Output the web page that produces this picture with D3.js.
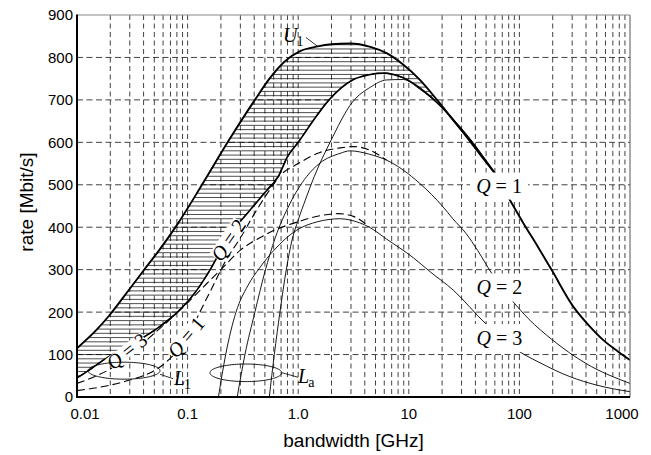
<!DOCTYPE html>
<html><head><meta charset="utf-8">
<script src="https://cdn.jsdelivr.net/npm/d3@7"></script>
<style>body{margin:0;background:#fff}</style>
</head><body>
<svg id="c" width="651" height="455"></svg>
<script>
// ---------- data ----------
const xTicks = [0.01, 0.1, 1, 10, 100, 1000];
const xTickLabels = ["0.01", "0.1", "1.0", "10", "100", "1000"];
const yTicks = [0, 100, 200, 300, 400, 500, 600, 700, 800, 900];
const hGrid = [100, 200, 300, 400, 500, 600, 700, 800];

// upper bound U1 [GHz, Mbit/s]
const upperU1 = [[0.01,115],[0.015,158],[0.02,195],[0.03,255],[0.04,298],[0.055,345],[0.08,405],[0.135,500],[0.23,600],[0.406,700],[0.55,750],[0.75,790],[1.04,815],[1.5,826],[2.0,831],[2.94,833],[4.5,825],[6.3,810],[9,782],[12.6,747],[18,700],[25.2,653],[37,600],[50,555],[60,527],[82,464],[109,409],[150,350],[196,299],[307,213],[420,170],[574,134],[800,105],[1000,87]];
// lower envelope (boundary of hatched region)
const lowerEnvelope = [[0.01,45],[0.013,64],[0.0173,87],[0.032,126],[0.056,166],[0.082,201],[0.12,250],[0.16,300],[0.21,355],[0.26,393],[0.366,440],[0.5,482],[0.66,519],[0.8,566],[1.0,600],[1.4,655],[1.9,700],[3.1,747],[4.5,760],[5.9,763],[8.9,752],[12.6,728],[20,682],[30,627],[45,568],[60,527]];
// L1 bounds (dashed)
const L1Q1 = [[0.01,15],[0.02,28],[0.03,40],[0.045,56],[0.06,76],[0.08,108],[0.1,140],[0.129,200],[0.17,262],[0.22,320],[0.3,375],[0.42,440],[0.52,478],[0.66,519],[0.8,566],[1.0,600],[1.4,655],[1.9,700],[3.1,747],[4.5,760],[5.9,763],[8.9,752]];
const L1Q2 = [[0.01,32],[0.015,50],[0.02,66],[0.03,100],[0.05,150],[0.082,201],[0.12,250],[0.16,300],[0.21,355],[0.26,393],[0.366,440],[0.5,482],[0.66,519],[1.0,550],[1.57,576],[2.4,587],[3.2,590],[4.4,582],[6.3,558]];
const L1Q3 = [[0.01,45],[0.013,64],[0.0173,87],[0.032,126],[0.056,166],[0.082,201],[0.1,222],[0.15,268],[0.2,300],[0.3,346],[0.45,375],[0.6,392],[1.0,413],[1.57,427],[2.3,432],[3.2,425],[4.4,400]];
// La bounds (thin solid)
const LaQ1 = [[0.548,0],[0.608,100],[0.684,200],[0.78,300],[0.88,370],[1.0,417],[1.16,464],[1.4,520],[1.94,600],[3.1,695],[4.5,730],[6.3,747],[8.9,748],[12.6,725],[25.2,655],[38,600],[60,527]];
const LaQ2 = [[0.281,0],[0.33,100],[0.406,200],[0.5,295],[0.62,375],[0.84,455],[1.19,519],[1.57,551],[2.39,574],[2.94,580],[4.4,572],[6.3,558],[12.6,503],[20.4,448],[25,420],[33,385],[42,345],[56,292],[88,224],[120,185],[200,134],[400,79],[1000,32]];
const LaQ3 = [[0.19,0],[0.221,100],[0.274,200],[0.35,262],[0.45,305],[0.6,345],[0.97,393],[1.5,413],[2.4,420],[2.94,417],[4.4,400],[6.3,372],[11,328],[15.6,295],[25.2,252],[49,174],[100,107],[150,82],[286,48],[500,28],[1000,12.5]];

// label anchors [GHz, Mbit/s, angle]
const qLabels = [
  {t:"3", f:0.0281, v:108, a:-38, w:44, h:13},
  {t:"1", f:0.0964, v:141, a:-50, w:44, h:15},
  {t:"2", f:0.233, v:370, a:-56, w:44, h:16},
  {t:"1", f:65.4, v:497, a:0, w:58, h:27},
  {t:"2", f:66, v:258, a:0, w:58, h:28},
  {t:"3", f:66, v:139, a:0, w:58, h:28}
];

// ---------- layout ----------
const W = 651, H = 455;
const m = {l:77, r:630, t:15, b:397};
const x = d3.scaleLog().domain([0.01, 1000]).range([m.l, m.r]);
const y = d3.scaleLinear().domain([0, 900]).range([m.b, m.t]);
const svg = d3.select("#c");

svg.append("defs").append("clipPath").attr("id","plot")
  .append("rect").attr("x",m.l).attr("y",m.t).attr("width",m.r-m.l).attr("height",m.b-m.t);

// grid
const vGrid = [];
for (let k = -2; k <= 2; k++) for (let j = 1; j <= 9; j++) vGrid.push(j * Math.pow(10, k));
const grid = svg.append("g").attr("stroke","#111").attr("stroke-width",0.8);
grid.selectAll("line.v").data(vGrid.filter(v => v > 0.0101 && v < 999)).join("line")
  .attr("x1", d => x(d)).attr("x2", d => x(d)).attr("y1", m.t).attr("y2", m.b)
  .attr("stroke-dasharray","5,3.5");
grid.selectAll("line.h").data(hGrid).join("line")
  .attr("x1", m.l).attr("x2", m.r).attr("y1", d => y(d)).attr("y2", d => y(d))
  .attr("stroke-dasharray","6,3.5");

const line = d3.line().x(d => x(d[0])).y(d => y(d[1])).curve(d3.curveMonotoneX);

// hatch: between U1 and lower envelope
const defs = svg.select("defs");
const areaBelowU = d3.area().x(d => x(d[0])).y0(m.b).y1(d => y(d[1])).curve(d3.curveMonotoneX);
const areaAboveL = d3.area().x(d => x(d[0])).y0(m.t).y1(d => y(d[1])).curve(d3.curveMonotoneX);
defs.append("clipPath").attr("id","cU").append("path").attr("d", areaBelowU(upperU1));
defs.append("clipPath").attr("id","cL").append("path").attr("d", areaAboveL(lowerEnvelope));
const hatchLevels = d3.range(10, 900, 10);
svg.append("g").attr("clip-path","url(#cU)").append("g").attr("clip-path","url(#cL)")
  .selectAll("line").data(hatchLevels).join("line")
  .attr("x1", m.l).attr("x2", m.r).attr("y1", d => y(d)).attr("y2", d => y(d))
  .attr("stroke","#000").attr("stroke-width",0.7);

const curves = svg.append("g").attr("clip-path","url(#plot)").attr("fill","none").attr("stroke","#000");
[L1Q1, L1Q2, L1Q3].forEach(c => curves.append("path").attr("d", line(c))
  .attr("stroke-width",1.1).attr("stroke-dasharray","8,4"));
[LaQ1, LaQ2, LaQ3].forEach(c => curves.append("path").attr("d", line(c)).attr("stroke-width",0.9));
curves.append("path").attr("d", line(lowerEnvelope)).attr("stroke-width",1.6);
curves.append("path").attr("d", line(upperU1)).attr("stroke-width",1.9);

// Q labels with white background
const serif = "'Liberation Serif','DejaVu Serif',serif";
qLabels.forEach(L => {
  const g = svg.append("g").attr("transform", `translate(${x(L.f)},${y(L.v)}) rotate(${L.a})`);
  g.append("rect").attr("x", -L.w/2).attr("y", -L.h/2).attr("width", L.w).attr("height", L.h).attr("fill","#fff");
  const t = g.append("text").attr("text-anchor","middle").attr("y", 7)
    .attr("font-family", serif).attr("font-size", 20);
  t.append("tspan").attr("font-style","italic").text("Q");
  t.append("tspan").text("\u00a0=\u00a0" + L.t);
});

// ellipses and leader lines
const ellipses = [
  {f:0.0266, v:62, df:0.3255, dv:20},
  {f:0.336, v:57, df:0.324, dv:20.7}
];
const ell = d3.line().curve(d3.curveLinearClosed);
ellipses.forEach(e => {
  const pts = d3.range(0, 2*Math.PI, Math.PI/60).map(t =>
    [x(Math.pow(10, Math.log10(e.f) + e.df*Math.cos(t))), y(e.v + e.dv*Math.sin(t))]);
  svg.append("path").attr("d", ell(pts)).attr("fill","none").attr("stroke","#000").attr("stroke-width",0.9);
});
const leaders = [
  [[0.0563,53.5],[0.0741,43]],
  [[0.71,57.3],[1.0,46.4]],
  [[1.176,847],[1.5,826]]
];
leaders.forEach(l => svg.append("line")
  .attr("x1", x(l[0][0])).attr("y1", y(l[0][1])).attr("x2", x(l[1][0])).attr("y2", y(l[1][1]))
  .attr("stroke","#000").attr("stroke-width",0.8));

const subLabels = [
  {main:"L", sub:"1", subItalic:false, f:0.0753, v:28},
  {main:"L", sub:"a", subItalic:false, f:0.996, v:33},
  {main:"U", sub:"1", subItalic:false, f:0.729, v:836}
];
subLabels.forEach(s => {
  const t = svg.append("text").attr("x", x(s.f)).attr("y", y(s.v))
    .attr("font-family", serif).attr("font-size", 20);
  t.append("tspan").attr("font-style","italic").text(s.main);
  t.append("tspan").attr("font-size", 14).attr("dy", 4).attr("dx", -1).text(s.sub);
});

// axes frame
svg.append("line").attr("x1", m.l).attr("x2", m.r).attr("y1", m.t).attr("y2", m.t).attr("stroke","#888").attr("stroke-width",1);
svg.append("line").attr("x1", m.r).attr("x2", m.r).attr("y1", m.t).attr("y2", m.b).attr("stroke","#555").attr("stroke-width",1);
svg.append("line").attr("x1", m.l).attr("x2", m.l).attr("y1", m.t-0.5).attr("y2", m.b+1).attr("stroke","#000").attr("stroke-width",2);
svg.append("line").attr("x1", m.l-1).attr("x2", m.r).attr("y1", m.b).attr("y2", m.b).attr("stroke","#000").attr("stroke-width",2);

// tick labels
const sans = "'Liberation Sans',Arial,Helvetica,sans-serif";
svg.append("g").selectAll("text").data(yTicks).join("text")
  .attr("x", m.l - 4).attr("y", d => y(d)).attr("dy","0.36em").attr("text-anchor","end")
  .attr("font-family", sans).attr("font-size", 15).text(d => d);
svg.append("g").selectAll("text").data(xTicks).join("text")
  .attr("x", (d,i) => x(d) + (i === 0 ? 8 : i === xTicks.length-1 ? -8 : 0))
  .attr("y", 419).attr("text-anchor","middle")
  .attr("font-family", sans).attr("font-size", 15).text((d,i) => xTickLabels[i]);

// axis titles
svg.append("text").attr("x", (m.l+m.r)/2).attr("y", 447).attr("text-anchor","middle")
  .attr("font-family", sans).attr("font-size", 19).text("bandwidth [GHz]");
svg.append("text").attr("transform", `translate(33,${(m.t+m.b)/2 - 4}) rotate(-90)`).attr("text-anchor","middle")
  .attr("font-family", sans).attr("font-size", 19).text("rate [Mbit/s]");
</script>
</body></html>
